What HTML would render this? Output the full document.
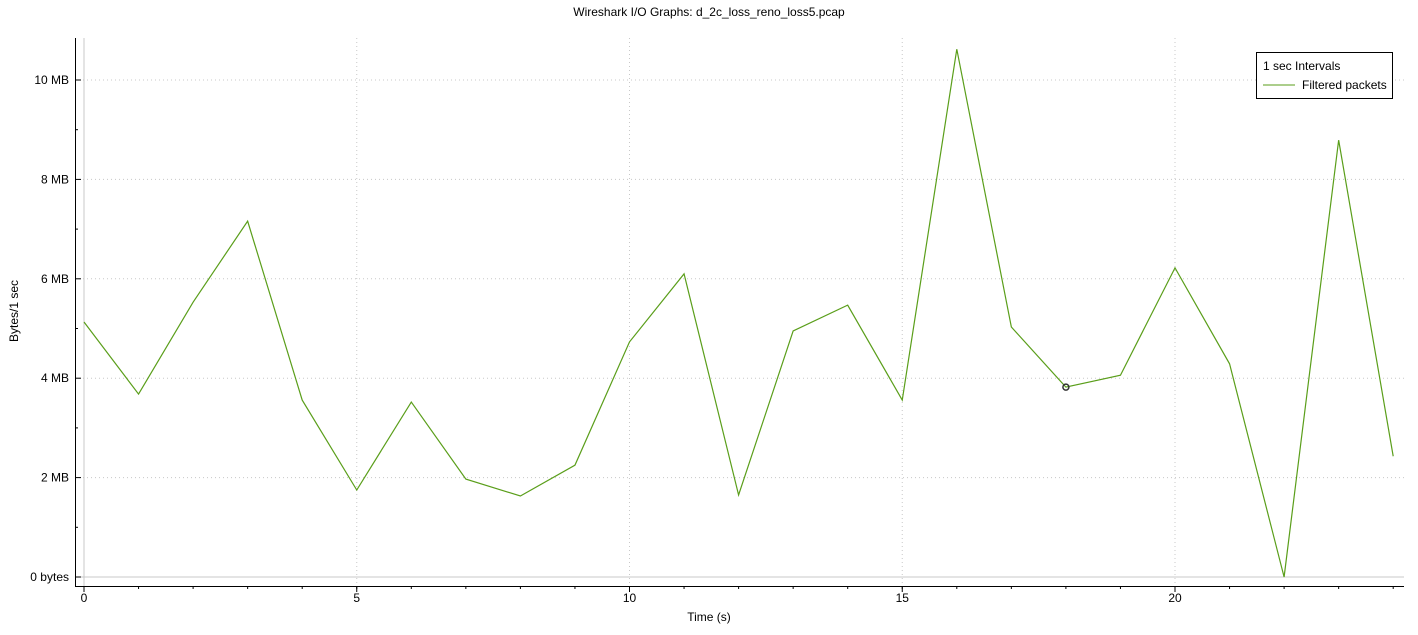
<!DOCTYPE html>
<html><head><meta charset="utf-8"><style>
html,body{margin:0;padding:0;background:#fff;}
svg text{font-family:"Liberation Sans",sans-serif;font-size:12px;fill:#000;}
</style></head><body>
<svg id="chart" width="1418" height="630">
<text x="709" y="16" text-anchor="middle">Wireshark I/O Graphs: d_2c_loss_reno_loss5.pcap</text>
<g id="grid"></g><g id="axes"></g><g id="series"></g>
<g>
<rect x="1256.5" y="52.5" width="136" height="46" fill="#fff" stroke="#000"/>
<text x="1263" y="70">1 sec Intervals</text>
<line x1="1263" y1="85" x2="1295" y2="85" stroke="#5a9e1a"/>
<text x="1302" y="89">Filtered packets</text>
</g>
<text x="709" y="621" text-anchor="middle">Time (s)</text>
<text transform="translate(18,311) rotate(-90)" text-anchor="middle">Bytes/1 sec</text>
</svg>
<script>
const times=[0,1,2,3,4,5,6,7,8,9,10,11,12,13,14,15,16,17,18,19,20,21,22,23,24];
const values=[5.13,3.68,5.53,7.16,3.56,1.75,3.52,1.97,1.63,2.25,4.73,6.10,1.65,4.95,5.47,3.56,10.62,5.03,3.82,4.06,6.22,4.29,0,8.79,2.43];
const xTicks=[0,5,10,15,20];
const yTicks=[0,2,4,6,8,10];
const yLabels=["0 bytes","2 MB","4 MB","6 MB","8 MB","10 MB"];
const markerIndex=18;
const NS="http://www.w3.org/2000/svg";
const X=t=>84+t*54.55, Y=v=>577-v*49.7;
function mk(p,tag,a){const e=document.createElementNS(NS,tag);for(const k in a)e.setAttribute(k,a[k]);p.appendChild(e);return e;}
const grid=document.getElementById('grid'),axes=document.getElementById('axes'),ser=document.getElementById('series');
xTicks.forEach(t=>{
 const l=mk(grid,'line',{x1:X(t),x2:X(t),y1:38,y2:586,stroke:t===0?'#c8c8c8':'#c8c8c8','stroke-dasharray':t===0?'':'1,3'});
 
 
 const tx=mk(axes,'text',{x:X(t),y:602,'text-anchor':'middle'});tx.textContent=t;
 
 
 mk(axes,'line',{x1:X(t),x2:X(t),y1:586,y2:592,stroke:'#000'});
});
for(let t=0;t<=24;t++){mk(axes,'line',{x1:X(t),x2:X(t),y1:586,y2:589,stroke:'#000'});}
yTicks.forEach((v,i)=>{
 const l=mk(grid,'line',{x1:75,x2:1404,y1:Y(v),y2:Y(v),stroke:'#c8c8c8','stroke-dasharray':v===0?'':'1,3'});
 
 
 const tx=mk(axes,'text',{x:69,y:Y(v)+4,'text-anchor':'end'});tx.textContent=yLabels[i];
 
 
 mk(axes,'line',{x1:75,x2:81,y1:Y(v),y2:Y(v),stroke:'#000'});
 if(i<yTicks.length-1) mk(axes,'line',{x1:75,x2:78,y1:Y(v+1),y2:Y(v+1),stroke:'#000'});
});
mk(axes,'line',{x1:75.5,x2:75.5,y1:38,y2:586.5,stroke:'#000'});
mk(axes,'line',{x1:75,x2:1404,y1:586.5,y2:586.5,stroke:'#000'});
const path=mk(ser,'polyline',{points:times.map((t,i)=>X(t)+','+Y(values[i])).join(' '),fill:'none',stroke:'#5a9e1a','stroke-width':1.2});


const c=mk(ser,'circle',{cx:X(times[markerIndex]),cy:Y(values[markerIndex]),r:3,fill:'none',stroke:'#333','stroke-width':1.5});


</script>
</body></html>
